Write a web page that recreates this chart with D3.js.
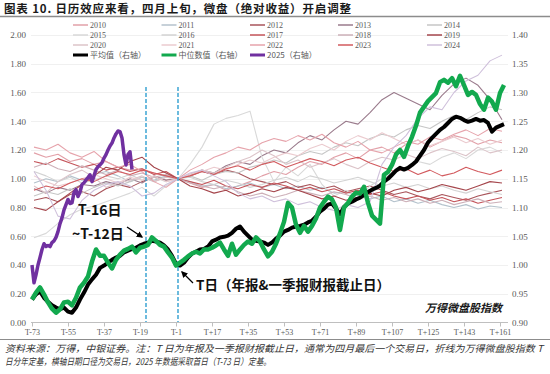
<!DOCTYPE html>
<html>
<head>
<meta charset="utf-8">
<script src="https://cdn.jsdelivr.net/npm/d3@7"></script>
<style>
body { margin: 0; background: #fff; }
svg { display: block; }
</style>
</head>
<body>
<div id="chart"></div>
<script>
var tickDays = [-73, -55, -37, -19, -1, 17, 35, 53, 71, 89, 107, 125, 143, 161];
var tickLabels = ['T-73', 'T-55', 'T-37', 'T-19', 'T-1', 'T+17', 'T+35', 'T+53', 'T+71', 'T+89', 'T+107', 'T+125', 'T+143', 'T+161'];

var years = ['2010', '2011', '2012', '2013', '2014', '2015', '2016', '2017', '2018', '2019', '2020', '2021', '2022', '2023', '2024'];

// yearly lines, every 6 trading days from T-72, T day = 1
var s2010 = [1.18,1.15,1.17,1.12,1.14,1.10,1.12,1.08,1.06,1.07,1.04,1.02,1.00,0.97,0.94,0.96,0.92,0.95,0.98,1.02,1.05,1.03,1.08,1.12,1.10,1.15,1.18,1.14,1.20,1.22,1.18,1.24,1.27,1.22,1.26,1.30,1.28,1.24,1.27,1.25];
var s2011 = [0.97,1.00,0.98,1.02,0.99,1.03,1.05,1.02,0.98,1.01,0.99,1.02,1.00,0.98,0.95,0.96,0.93,0.95,0.97,0.94,0.96,0.93,0.95,0.92,0.94,0.90,0.91,0.88,0.86,0.88,0.84,0.86,0.83,0.85,0.82,0.80,0.82,0.79,0.81,0.80];
var s2012 = [0.85,0.87,0.84,0.89,0.91,0.88,0.93,0.96,0.94,0.98,1.01,0.99,1.00,1.02,1.05,1.03,1.06,1.04,1.00,0.98,0.96,0.98,0.94,0.96,0.93,0.95,0.91,0.93,0.95,0.92,0.89,0.91,0.88,0.86,0.89,0.87,0.85,0.88,0.90,0.92];
var s2013 = [0.93,0.90,0.94,0.92,0.96,0.95,0.98,0.96,1.00,0.97,1.02,0.99,1.00,1.03,1.06,1.04,1.09,1.12,1.10,1.16,1.20,1.18,1.25,1.30,1.27,1.34,1.40,1.38,1.46,1.55,1.60,1.56,1.52,1.48,1.58,1.66,1.70,1.65,1.55,1.41];
var s2014 = [0.88,0.91,0.89,0.93,0.90,0.94,0.97,0.95,0.98,1.01,0.98,1.01,1.00,1.02,0.99,1.03,1.05,1.04,1.08,1.10,1.13,1.11,1.16,1.19,1.17,1.22,1.25,1.23,1.28,1.31,1.29,1.34,1.37,1.35,1.40,1.44,1.41,1.46,1.50,1.48];
var s2015 = [0.59,0.62,0.69,0.75,0.79,0.81,0.84,0.87,0.90,0.94,0.88,0.95,1.00,1.10,1.22,1.38,1.42,1.44,1.47,1.15,0.98,1.08,1.02,1.10,0.96,0.88,0.92,0.86,0.95,1.00,1.04,1.08,1.12,1.10,1.15,1.18,1.14,1.20,1.22,1.18];
var s2016 = [1.05,1.02,0.98,1.01,0.97,0.99,1.02,1.00,1.03,0.99,1.01,0.98,1.00,1.01,0.98,0.96,0.99,0.97,0.94,0.96,0.99,1.01,0.98,1.02,1.00,0.97,0.99,1.01,0.98,0.95,0.97,0.94,0.96,0.93,0.95,0.92,0.90,0.93,0.91,0.89];
var s2017 = [1.12,1.10,1.14,1.11,1.08,1.10,1.06,1.08,1.05,1.07,1.03,1.05,1.00,0.98,0.96,0.99,0.95,0.93,0.96,0.94,0.97,0.95,0.92,0.94,0.91,0.93,0.90,0.92,0.89,0.91,0.88,0.86,0.88,0.85,0.87,0.84,0.86,0.83,0.85,0.87];
var s2018 = [1.08,1.11,1.07,1.05,1.09,1.06,1.03,1.06,1.02,1.04,1.01,1.03,1.00,0.97,0.95,0.93,0.95,0.91,0.88,0.90,0.87,0.89,0.92,0.90,0.88,0.91,0.89,0.86,0.88,0.85,0.87,0.84,0.86,0.83,0.85,0.82,0.84,0.86,0.83,0.84];
var s2019 = [0.80,0.78,0.84,0.90,0.96,1.02,1.08,1.06,1.12,1.15,1.08,1.04,1.00,0.95,0.93,0.90,0.92,0.88,0.90,0.93,0.91,0.94,0.92,0.89,0.86,0.88,0.85,0.87,0.90,0.88,0.92,0.94,0.91,0.93,0.96,0.94,0.92,0.95,0.98,0.97];
var s2020 = [0.95,0.90,0.98,1.03,1.06,1.01,0.94,0.97,0.99,1.02,0.98,1.01,1.00,1.03,1.06,1.04,1.08,1.12,1.15,1.20,1.16,1.10,1.13,1.08,1.11,1.14,1.10,1.07,1.12,1.15,1.13,1.17,1.14,1.18,1.21,1.19,1.16,1.22,1.18,1.20];
var s2021 = [1.02,0.98,0.95,0.97,1.00,1.03,1.00,0.97,1.01,0.99,1.02,0.98,1.00,1.03,1.05,1.08,1.06,1.10,1.13,1.11,1.15,1.18,1.16,1.21,1.24,1.20,1.26,1.30,1.27,1.32,1.28,1.24,1.27,1.23,1.26,1.29,1.25,1.28,1.24,1.27];
var s2022 = [1.22,1.20,1.24,1.18,1.15,1.19,1.12,1.08,1.10,1.05,0.98,0.94,1.00,1.06,1.10,1.15,1.18,1.22,1.20,1.25,1.28,1.26,1.30,1.27,1.31,1.25,1.22,1.26,1.20,1.18,1.22,1.26,1.24,1.29,1.27,1.31,1.34,1.30,1.35,1.33];
var s2023 = [0.92,0.95,0.93,0.97,1.00,0.98,1.02,1.05,1.03,1.06,1.04,1.02,1.00,1.02,1.05,1.03,1.07,1.09,1.06,1.10,1.12,1.08,1.11,1.14,1.12,1.09,1.13,1.15,1.11,1.08,1.05,1.07,1.03,1.06,1.02,1.04,1.08,1.05,1.03,1.06];
var s2024 = [1.05,0.92,0.74,0.72,0.85,0.92,0.96,0.98,0.95,0.88,0.90,0.96,1.00,1.04,1.06,1.02,0.98,0.90,0.86,0.88,0.84,0.86,0.82,0.84,0.80,0.78,0.82,0.80,0.84,1.10,1.22,1.30,1.42,1.50,1.48,1.60,1.68,1.72,1.82,1.86];

// right axis, every 2 trading days from T-73
var avgValues = [0.940,0.949,0.954,0.943,0.936,0.930,0.926,0.923,0.926,0.919,
  0.917,0.926,0.940,0.952,0.966,0.975,0.983,0.995,0.999,1.004,
  1.009,1.013,1.016,1.022,1.025,1.028,1.030,1.034,1.037,1.039,
  1.042,1.041,1.039,1.034,1.027,1.016,1.002,
  0.999,1.004,1.013,1.020,1.023,1.027,1.028,1.032,1.041,1.044,
  1.048,1.049,1.051,1.056,1.063,1.067,1.058,1.051,1.044,1.042,
  1.041,1.039,1.035,1.039,1.046,1.051,1.058,1.061,1.065,1.067,
  1.068,1.070,1.074,1.077,1.084,1.093,1.098,1.105,1.107,1.098,
  1.088,1.101,1.107,1.110,1.114,1.117,1.122,1.127,1.131,1.134,
  1.138,1.145,1.150,1.157,1.164,1.169,1.166,1.169,1.174,1.180,
  1.190,1.200,1.213,1.221,1.228,1.235,1.240,1.247,1.254,1.258,
  1.256,1.252,1.249,1.251,1.254,1.251,1.252,1.247,1.232,1.239,
  1.242,1.245];
var medianValues = [0.940,0.952,0.961,0.949,0.935,0.924,0.917,0.923,0.935,0.936,
  0.930,0.943,0.961,0.969,0.980,1.006,1.027,1.016,1.016,1.004,
  0.994,1.009,1.018,1.025,1.028,1.032,1.022,1.030,1.032,1.035,
  1.048,1.042,1.035,1.032,1.022,1.013,0.999,
  1.004,1.009,1.015,1.020,1.023,1.020,1.027,1.027,1.030,1.034,
  1.039,1.027,1.016,1.037,1.018,1.027,1.035,1.041,1.037,1.048,
  1.041,1.027,1.015,1.023,1.037,1.055,1.075,1.108,1.100,1.070,
  1.056,1.068,1.058,1.068,1.081,1.100,1.110,1.119,1.114,1.100,
  1.061,1.100,1.108,1.119,1.126,1.124,1.136,1.108,1.086,1.079,
  1.072,1.157,1.162,1.174,1.192,1.200,1.188,1.207,1.223,1.242,
  1.265,1.275,1.285,1.292,1.299,1.318,1.322,1.317,1.325,1.311,
  1.329,1.313,1.296,1.301,1.296,1.280,1.270,1.291,1.284,1.270,
  1.299,1.313];
// 2025, daily from T-73 to T-23
var y2025Values = [1.000,0.969,0.983,1.000,1.013,1.027,1.037,1.032,1.034,1.032,
  1.039,1.042,1.048,1.058,1.072,1.082,1.096,1.105,1.114,1.107,
  1.108,1.126,1.131,1.119,1.127,1.140,1.143,1.148,1.152,1.157,
  1.145,1.155,1.166,1.171,1.174,1.178,1.186,1.192,1.200,1.207,
  1.212,1.221,1.228,1.233,1.232,1.221,1.192,1.174,1.192,1.197,
  1.166];

var yearSeries = [s2010, s2011, s2012, s2013, s2014, s2015, s2016, s2017, s2018, s2019, s2020, s2021, s2022, s2023, s2024];
var yearColors = ['#e2a0a8', '#b4c2cc', '#a9555b', '#9a7b8c', '#c6c6c6', '#d9d9d9', '#d3d3d3', '#c4545a', '#cdb0b8', '#a5464c', '#dcc4c9', '#ebcbcf', '#e6a3ab', '#d25a5e', '#cfc0db'];

var yearDays = d3.range(-72, 163, 6);
var midDays = d3.range(-73, 164, 2);
var days2025 = d3.range(-73, -22);

var settings = { width: 550, height: 374 };
var serif = '"Liberation Serif", "DejaVu Serif", serif';
var cjk = '"Noto Sans CJK SC", sans-serif';

var x = d3.scaleLinear().domain([-73, 165]).range([32, 508]);
var yL = d3.scaleLinear().domain([0, 2]).range([322.5, 35]);
var yR = d3.scaleLinear().domain([0.9, 1.4]).range([322.5, 35]);

var svg = d3.select('#chart').append('svg')
  .attr('width', settings.width)
  .attr('height', settings.height);

svg.append('defs').append('marker')
  .attr('id', 'arr')
  .attr('viewBox', '0 0 10 10')
  .attr('refX', 8).attr('refY', 5)
  .attr('markerWidth', 5).attr('markerHeight', 5)
  .attr('orient', 'auto')
  .append('path').attr('d', 'M0,0L10,5L0,10z').attr('fill', '#000');

// title
svg.append('text')
  .attr('x', 4).attr('y', 13)
  .attr('textLength', 347).attr('lengthAdjust', 'spacing')
  .style('font-family', cjk).style('font-size', '11.5px').style('font-weight', 'bold')
  .attr('fill', '#1a1a1a')
  .text('图表 10. 日历效应来看，四月上旬，微盘（绝对收益）开启调整');
svg.append('line')
  .attr('x1', 0).attr('x2', 550).attr('y1', 16.5).attr('y2', 16.5)
  .attr('stroke', '#8c8c8c').attr('stroke-width', 1.5);

// grid
var leftTicks = d3.range(0, 2.01, 0.2);
svg.append('g').selectAll('line')
  .data(leftTicks.slice(1))
  .enter().append('line')
  .attr('x1', 31).attr('x2', 508)
  .attr('y1', function(d) { return Math.round(yL(d)) + 0.5; })
  .attr('y2', function(d) { return Math.round(yL(d)) + 0.5; })
  .attr('stroke', '#f0f0f0');

// axes
var xAxis = svg.append('g')
  .attr('transform', 'translate(0,322.5)')
  .call(d3.axisBottom(x).tickValues(tickDays).tickFormat(function(d, i) { return tickLabels[i]; }).tickSize(4).tickSizeOuter(0).tickPadding(3));
xAxis.select('.domain').attr('stroke', '#bfbfbf').attr('d', 'M31,0H508');
xAxis.selectAll('.tick line').attr('stroke', '#bfbfbf');
xAxis.selectAll('text').attr('fill', '#595959').style('font-family', serif).style('font-size', '8px');

var leftAxis = svg.append('g')
  .attr('transform', 'translate(26,0)')
  .call(d3.axisLeft(yL).tickValues(leftTicks).tickFormat(d3.format('.2f')).tickSize(0).tickPadding(0));
leftAxis.select('.domain').remove();
leftAxis.selectAll('text').attr('fill', '#595959').style('font-family', serif).style('font-size', '9px');

var rightAxis = svg.append('g')
  .attr('transform', 'translate(512,0)')
  .call(d3.axisRight(yR).tickValues(d3.range(0.9, 1.401, 0.05)).tickFormat(d3.format('.2f')).tickSize(0).tickPadding(0));
rightAxis.select('.domain').remove();
rightAxis.selectAll('text').attr('fill', '#595959').style('font-family', serif).style('font-size', '9px');

// yearly lines (left axis)
var lineL = d3.line().x(function(d) { return x(d[0]); }).y(function(d) { return yL(d[1]); });
var lineR = d3.line().x(function(d) { return x(d[0]); }).y(function(d) { return yR(d[1]); });

svg.append('g').selectAll('path')
  .data(yearSeries)
  .enter().append('path')
  .attr('d', function(s) { return lineL(s.map(function(v, i) { return [yearDays[i], v]; })); })
  .attr('fill', 'none')
  .attr('stroke', function(s, i) { return yearColors[i]; })
  .attr('stroke-width', 1.1)
  .attr('stroke-linejoin', 'round');

// dashed markers at T-16 and T
svg.append('g').selectAll('line')
  .data([-16, 0])
  .enter().append('line')
  .attr('x1', function(d) { return x(d); }).attr('x2', function(d) { return x(d); })
  .attr('y1', 87).attr('y2', 322)
  .attr('stroke', '#2f9fd0').attr('stroke-width', 1.4)
  .attr('stroke-dasharray', '4,2');

var zip = function(days, vals) { return vals.map(function(v, i) { return [days[i], v]; }); };

svg.append('path')
  .attr('d', lineR(zip(midDays, avgValues)))
  .attr('fill', 'none').attr('stroke', '#000').attr('stroke-width', 4)
  .attr('stroke-linejoin', 'round');
svg.append('path')
  .attr('d', lineR(zip(midDays, medianValues)))
  .attr('fill', 'none').attr('stroke', '#12a94e').attr('stroke-width', 4.5)
  .attr('stroke-linejoin', 'round');
svg.append('path')
  .attr('d', lineR(zip(days2025, y2025Values)))
  .attr('fill', 'none').attr('stroke', '#7030a0').attr('stroke-width', 3.5)
  .attr('stroke-linejoin', 'round');

// legend
var legendItems = years.map(function(y, i) { return { label: y, color: yearColors[i], w: 1.5 }; });
legendItems.push({ label: '平均值（右轴）', color: '#000', w: 3 });
legendItems.push({ label: '中位数值（右轴）', color: '#12a94e', w: 3 });
legendItems.push({ label: '2025（右轴）', color: '#7030a0', w: 3 });
var colX = [73, 161.5, 250, 338, 427];
var legend = svg.append('g').selectAll('g')
  .data(legendItems)
  .enter().append('g')
  .attr('transform', function(d, i) { return 'translate(' + colX[i % 5] + ',' + (25 + 10 * Math.floor(i / 5)) + ')'; });
legend.append('line')
  .attr('x1', 0).attr('x2', 15)
  .attr('stroke', function(d) { return d.color; })
  .attr('stroke-width', function(d) { return d.w; });
legend.append('text')
  .attr('x', 17).attr('y', 3)
  .attr('fill', '#595959')
  .style('font-family', function(d) { return /右/.test(d.label) ? cjk : serif; })
  .style('font-size', '8px')
  .text(function(d) { return d.label; });

// annotations
var note = function(tx, ty, size, str) {
  svg.append('text').attr('x', tx).attr('y', ty)
    .style('font-family', cjk).style('font-size', size + 'px').style('font-weight', 'bold')
    .attr('fill', '#111').text(str);
};
note(78, 215, 14, 'T-16日');
note(72, 239, 14, '~T-12日');
note(196, 290, 13.5, 'T日（年报&一季报财报截止日）');

svg.append('line').attr('x1', 127).attr('y1', 227).attr('x2', 142).attr('y2', 237)
  .attr('stroke', '#000').attr('stroke-width', 1.3).attr('marker-end', 'url(#arr)');
svg.append('line').attr('x1', 193).attr('y1', 283).attr('x2', 182).attr('y2', 272)
  .attr('stroke', '#000').attr('stroke-width', 1.3).attr('marker-end', 'url(#arr)');

svg.append('text')
  .attr('x', 502).attr('y', 312)
  .attr('text-anchor', 'end')
  .style('font-family', cjk).style('font-size', '11px').style('font-weight', 'bold').style('font-style', 'italic')
  .attr('fill', '#1a1a1a')
  .text('万得微盘股指数');

// footer
svg.append('line')
  .attr('x1', 0).attr('x2', 550).attr('y1', 339.5).attr('y2', 339.5)
  .attr('stroke', '#8c8c8c').attr('stroke-width', 1);
var footer = ['资料来源：万得，中银证券。注：T 日为年报及一季报财报截止日，通常为四月最后一个交易日，折线为万得微盘股指数 T',
  '日分年定基，横轴日期口径为交易日，2025 年数据采取首日（T-73 日）定基。'];
var footerLen = [538, 266];
svg.append('g').selectAll('text')
  .data(footer)
  .enter().append('text')
  .attr('x', 5)
  .attr('y', function(d, i) { return 352 + 13 * i; })
  .attr('textLength', function(d, i) { return footerLen[i]; })
  .attr('lengthAdjust', 'spacingAndGlyphs')
  .style('font-family', cjk).style('font-size', '9.5px').style('font-style', 'italic')
  .attr('fill', '#333')
  .text(function(d) { return d; });
</script>
</body>
</html>
